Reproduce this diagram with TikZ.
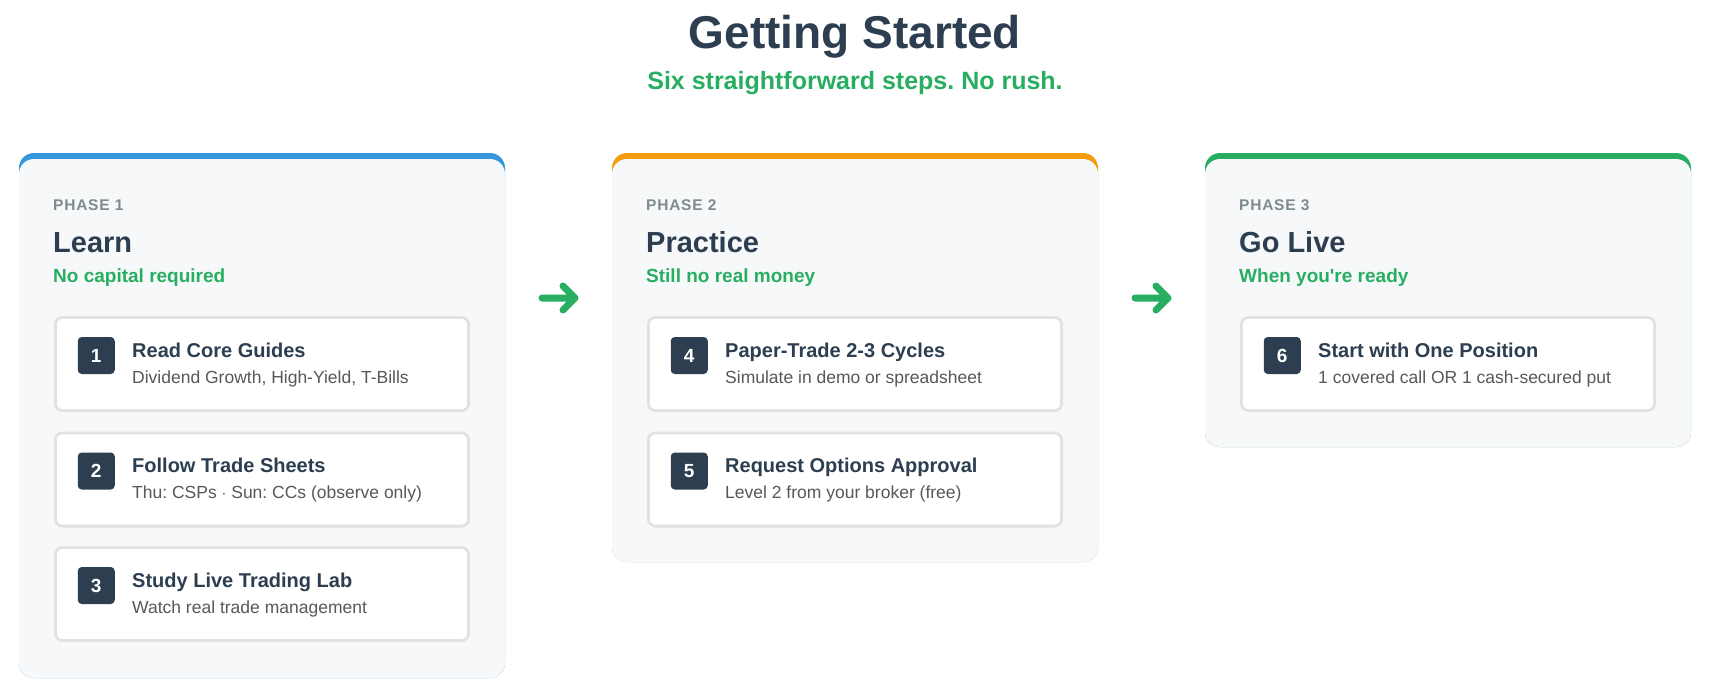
\documentclass[tikz,border=0pt]{standalone}
\usepackage{fontspec}
\setmainfont[Ligatures=TeXOff]{Liberation Sans}
\newfontfamily\phasefont[LetterSpace=5,Ligatures=TeXOff]{Liberation Sans}
\usetikzlibrary{calc}
\frenchspacing
\definecolor{dark}{HTML}{2C3E50}
\definecolor{okgreen}{HTML}{27AE60}
\definecolor{cblue}{HTML}{3498DB}
\definecolor{corange}{HTML}{F39C12}
\definecolor{labelgray}{HTML}{7F8C8D}
\definecolor{descgray}{HTML}{585858}
\definecolor{cardbg}{HTML}{F7F8FA}
\definecolor{stepborder}{HTML}{E1E2E4}
\tikzset{
  card/.style={rectangle, rounded corners=15pt, inner sep=0pt, outer sep=0pt, minimum width=486pt},
  stepbox/.style={rectangle, draw=stepborder, line width=2.8pt, fill=white, rounded corners=7pt, minimum width=413.2pt, minimum height=93.2pt, inner sep=0pt},
  badge/.style={rectangle, fill=dark, rounded corners=4pt, minimum size=37pt, inner sep=0pt, text=white, font=\bfseries\fontsize{19}{19}\selectfont},
  steptitle/.style={anchor=base west, inner sep=0pt, text=dark, font=\bfseries\fontsize{20}{20}\selectfont},
  stepdesc/.style={anchor=base west, inner sep=0pt, text=descgray, font=\fontsize{17.5}{17.5}\selectfont},
  phaselabel/.style={anchor=base west, inner sep=0pt, text=labelgray, font=\phasefont\bfseries\fontsize{15.5}{15.5}\selectfont},
  phasehead/.style={anchor=base west, inner sep=0pt, text=dark, font=\bfseries\fontsize{29}{29}\selectfont},
  phasesub/.style={anchor=base west, inner sep=0pt, text=okgreen, font=\bfseries\fontsize{19}{19}\selectfont},
  flowarrow/.style={draw=okgreen, line width=7pt, line cap=round, line join=round},
}
\newcommand\mystep[5]{%
  \node[stepbox] (#1) at (#2) {};
  \node[badge] (#1n) at ($(#1.west)+(42.25,-8.5)$) {#3};
  \node[steptitle] (#1t) at ($(#1.west)+(78,-7)$) {#4};
  \node[stepdesc] (#1d) at ($(#1.west)+(78,19)$) {#5};
}
\newcommand\myphase[7]{%
  \node[card, fill=#4, minimum height=#3pt, anchor=north west] (#1top) at (#2,153) {};
  \node[card, fill=cardbg, minimum height=\the\numexpr#3-6\relax pt, anchor=south west] (#1) at (#1top.south west) {};
  \node[phaselabel] (#1l) at ($(#1top.north west)+(34,57)$) {#5};
  \node[phasehead] (#1h) at ($(#1top.north west)+(34,99)$) {#6};
  \node[phasesub] (#1s) at ($(#1top.north west)+(34,129)$) {#7};
}
\begin{document}
\begin{tikzpicture}[x=1pt,y=-1pt]
\useasboundingbox (0,0) rectangle (1714,694);
\fill[white] (0,0) rectangle (1714,694);

\node[anchor=base, inner sep=0pt, text=dark, font=\bfseries\fontsize{46}{46}\selectfont] (title) at (855,48) {Getting Started};
\node[anchor=base, inner sep=0pt, text=okgreen, font=\bfseries\fontsize{25}{25}\selectfont] (subtitle) at (855,89) {Six straightforward steps. No rush.};

\myphase{p1}{19}{525}{cblue}{PHASE 1}{Learn}{No capital required}
\myphase{p2}{612}{409}{corange}{PHASE 2}{Practice}{Still no real money}
\myphase{p3}{1205}{294}{okgreen}{PHASE 3}{Go Live}{When you're ready}

\mystep{s1}{262,364}{1}{Read Core Guides}{Dividend Growth, High-Yield, T-Bills}
\mystep{s2}{262,479.5}{2}{Follow Trade Sheets}{Thu: CSPs $\cdot$ Sun: CCs (observe only)}
\mystep{s3}{262,594}{3}{Study Live Trading Lab}{Watch real trade management}
\mystep{s4}{855,364}{4}{Paper-Trade 2-3 Cycles}{Simulate in demo or spreadsheet}
\mystep{s5}{855,479.5}{5}{Request Options Approval}{Level 2 from your broker (free)}
\mystep{s6}{1448,364}{6}{Start with One Position}{1 covered call OR 1 cash-secured put}

\coordinate (arrowy) at (0,298);
\coordinate (a1s) at ($(p1top.east |- arrowy)+(37,0)$);
\coordinate (a1e) at ($(p2top.west |- arrowy)+(-37,0)$);
\coordinate (a2s) at ($(p2top.east |- arrowy)+(37,0)$);
\coordinate (a2e) at ($(p3top.west |- arrowy)+(-37,0)$);
\draw[flowarrow] (a1s) -- (a1e) ($(a1e)+(-12,-12)$) -- (a1e) -- ($(a1e)+(-12,12)$);
\draw[flowarrow] (a2s) -- (a2e) ($(a2e)+(-12,-12)$) -- (a2e) -- ($(a2e)+(-12,12)$);
\end{tikzpicture}
\end{document}
